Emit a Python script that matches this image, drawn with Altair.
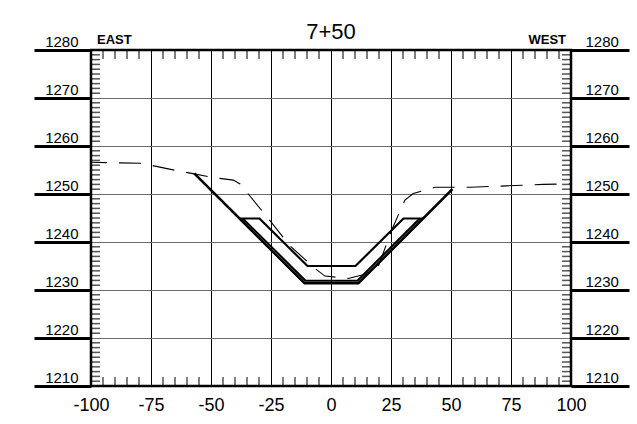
import altair as alt
import pandas as pd

# ---- data ----
ground_x = [-100, -78.9, -73.3, -63.6, -58.0, -49.0, -40.7, -37.9, -35.8, -26.1, -17.1,
            -6.7, -2.5, 7.2, 14.2, 19.7, 25.3, 30.8, 34.3, 43.3, 57.9, 73.2, 88.5, 100]
ground_y = [1256.6, 1256.4, 1255.8, 1254.8, 1254.3, 1253.4, 1252.9, 1252.1, 1250.8, 1244.9, 1239.2,
            1234.5, 1232.9, 1232.4, 1233.3, 1234.9, 1242.5, 1248.75, 1250.1, 1251.4, 1251.4, 1251.7, 1252.0, 1252.1]

outer_x = [-57.0, -11.0, 11.4, 50.6]
outer_y = [1254.3, 1231.4, 1231.4, 1251.0]

inner_x = [-36.8, -10.6, 11.0, 37.0]
inner_y = [1244.9, 1231.95, 1231.95, 1244.9]

bench_x = [-38.2, -29.8, -9.8, 10.2, 30.2, 38.4]
bench_y = [1244.9, 1244.9, 1235.0, 1235.0, 1244.9, 1244.9]

x_ticks = [-100, -75, -50, -25, 0, 25, 50, 75, 100]
y_ticks = [1210, 1220, 1230, 1240, 1250, 1260, 1270, 1280]
x_minor = [v for v in range(-95, 100, 5) if v % 25 != 0]
y_minor = [v for v in range(1211, 1280) if v % 10 != 0]

title_text = "7+50"
left_label = "EAST"
right_label = "WEST"

# ---- chart ----
W, H = 480, 336
FONT = "Liberation Sans"
xs = alt.Scale(domain=[-100, 100], nice=False, zero=False)
ys = alt.Scale(domain=[1210, 1280], nice=False, zero=False)


def line_df(xv, yv):
    return pd.DataFrame({"x": xv, "y": yv, "i": list(range(len(xv)))})


x_axis = alt.Axis(values=x_ticks, orient="bottom", grid=True, gridColor="black", gridWidth=1,
                  ticks=False, domain=False, labelFontSize=18, labelPadding=10, labelFlush=False,
                  labelOverlap=False, labelColor="black", labelFont=FONT, title=None,
                  labelExpr="datum.value < 0 ? '-' + abs(datum.value) : '' + datum.value")
y_axis_left = alt.Axis(values=y_ticks, orient="left", grid=True, gridColor="#6a6a6a", gridWidth=1,
                       tickSize=57, tickWidth=3, tickColor="black", domain=False, format="d",
                       labelFontSize=15, labelPadding=-44, labelAlign="right", labelBaseline="bottom",
                       labelOffset=-1, labelColor="black", labelFont=FONT, labelOverlap=False,
                       title=None)
y_axis_right = alt.Axis(values=y_ticks, orient="right", grid=False,
                        tickSize=58, tickWidth=3, tickColor="black", domain=False, format="d",
                        labelFontSize=15, labelPadding=-44, labelAlign="left", labelBaseline="bottom",
                        labelOffset=-1, labelColor="black", labelFont=FONT, labelOverlap=False,
                        title=None)

ground = alt.Chart(line_df(ground_x, ground_y)).mark_line(
    color="black", strokeWidth=1.1, strokeDash=[22, 12], strokeDashOffset=6
).encode(
    x=alt.X("x:Q", scale=xs, axis=x_axis),
    y=alt.Y("y:Q", scale=ys, axis=y_axis_left),
    order="i:Q",
)

right_ticks = alt.Chart(pd.DataFrame({"v": y_minor})).mark_rule(
    color="#555555", strokeWidth=1.5
).encode(
    y=alt.Y("v:Q", scale=ys, axis=y_axis_right),
    x=alt.value(W - 9), x2=alt.value(W),
)

left_ticks = alt.Chart(pd.DataFrame({"v": y_minor})).mark_rule(
    color="#555555", strokeWidth=1.5
).encode(
    y=alt.Y("v:Q", scale=ys, axis=None),
    x=alt.value(0), x2=alt.value(9),
)

top_ticks = alt.Chart(pd.DataFrame({"v": x_minor})).mark_rule(
    color="black", strokeWidth=1
).encode(
    x=alt.X("v:Q", scale=xs, axis=x_axis),
    y=alt.value(0), y2=alt.value(9),
)

bottom_ticks = alt.Chart(pd.DataFrame({"v": x_minor})).mark_rule(
    color="black", strokeWidth=1
).encode(
    x=alt.X("v:Q", scale=xs, axis=x_axis),
    y=alt.value(H - 9), y2=alt.value(H),
)


def design(xv, yv, w):
    return alt.Chart(line_df(xv, yv)).mark_line(color="black", strokeWidth=w).encode(
        x=alt.X("x:Q", scale=xs, axis=x_axis),
        y=alt.Y("y:Q", scale=ys, axis=None),
        order="i:Q",
    )


outer = design(outer_x, outer_y, 2.6)
inner = design(inner_x, inner_y, 2.0)
bench = design(bench_x, bench_y, 2.2)

one = pd.DataFrame({"a": [0]})
border = alt.Chart(one).mark_rect(fillOpacity=0, stroke="black", strokeWidth=2.5).encode(
    x=alt.value(0), x2=alt.value(W), y=alt.value(0), y2=alt.value(H)
)
east = alt.Chart(one).mark_text(align="left", baseline="alphabetic", fontWeight="bold",
                                fontSize=13, font=FONT, color="black").encode(
    x=alt.value(6), y=alt.value(-6), text=alt.value(left_label)
)
west = alt.Chart(one).mark_text(align="right", baseline="alphabetic", fontWeight="bold",
                                fontSize=13, font=FONT, color="black").encode(
    x=alt.value(W - 5), y=alt.value(-6), text=alt.value(right_label)
)
title = alt.Chart(one).mark_text(align="center", baseline="alphabetic", fontSize=22,
                                 font=FONT, color="black").encode(
    x=alt.value(W / 2), y=alt.value(-11), text=alt.value(title_text)
)

chart = alt.layer(
    ground, right_ticks, left_ticks, top_ticks, bottom_ticks, outer, inner, bench,
    border, east, west, title
).resolve_scale(y="shared").resolve_axis(y="independent").properties(
    width=W, height=H,
    padding={"left": 91, "top": 50, "right": 66, "bottom": 38},
    autosize="none",
).configure_view(strokeWidth=0).configure(font=FONT)

chart.save("out.html", embed_options={"renderer": "svg", "actions": False})
